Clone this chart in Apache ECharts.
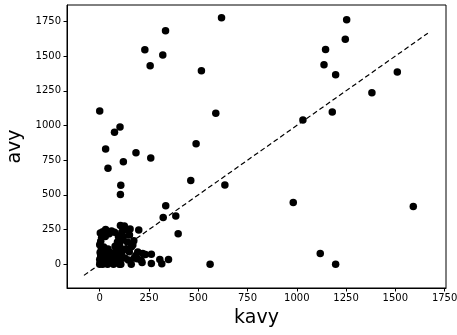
<!DOCTYPE html>
<html>
<head>
<meta charset="utf-8">
<script src="https://cdn.jsdelivr.net/npm/echarts@6/dist/echarts.min.js"></script>
<style>html,body{margin:0;padding:0;background:#fff}#c{width:457px;height:335px}</style>
</head>
<body>
<div id="c"></div>
<script>
// x values (kavy) and y values (avy)
var kavy = [
  0, 30, 42, 75, 103, 120, 184, 259, 107, 105, 462, 489, 589, 635,
  229, 256, 320, 334, 516, 618, 1146, 1138, 1253, 1246, 1197, 1510, 1381, 1180, 1031,
  982, 1591, 1119, 1197, 335, 322, 386, 398, 560, 349, 305, 315, 262, 262, 232, 215, 198,
  0, 3, 0, 5, 2, 8, 0, 5, 10, 3,
  15, 18, 22, 25, 20, 15, 28, 30, 35,
  40, 45, 50, 55, 42, 48, 60, 58,
  70, 75, 80, 85, 78, 90, 95, 75, 88,
  100, 105, 110, 115, 102, 108, 120, 112, 118, 105, 125, 130, 128, 132,
  151, 168, 161, 154, 173, 193, 218, 183, 210, 145, 160, 175, 150, 140, 190, 107
];
var avy = [
  1105, 830, 691, 951, 989, 739, 804, 765, 570, 503, 604, 869, 1088, 572,
  1545, 1430, 1507, 1682, 1394, 1776, 1547, 1437, 1762, 1622, 1365, 1386, 1235, 1097, 1040,
  445, 417, 77, 0, 421, 337, 347, 220, 0, 34, 34, 3, 5, 72, 70, 12, 247,
  0, 15, 35, 60, 85, 110, 140, 165, 195, 225,
  0, 30, 55, 90, 125, 235, 200, 250, 10,
  0, 30, 60, 85, 110, 220, 240, 15,
  0, 40, 70, 100, 130, 160, 200, 230, 20,
  0, 35, 65, 95, 130, 170, 200, 230, 260, 280, 275, 250, 45, 110,
  211, 138, 126, 254, 170, 89, 78, 63, 29, 30, 0, 45, 90, 160, 40, 0
];
// reference line y = x
var lineX = [-80, 1665];
var tickValues = [0, 250, 500, 750, 1000, 1250, 1500, 1750];

var pts = kavy.map(function (x, i) { return [x, avy[i]]; });
var linePts = lineX.map(function (v) { return [v, v]; });

var chart = echarts.init(document.getElementById('c'), null, {renderer: 'canvas'});
var font = 'DejaVu Sans';
function fmt(v) { return String(v); }
chart.setOption({
  animation: false,
  grid: {left: 67, right: 11, top: 5, bottom: 47, containLabel: false, outerBoundsMode: 'none',
         show: true, borderColor: '#000', borderWidth: 1, backgroundColor: 'transparent'},
  xAxis: {
    type: 'value', min: -166, max: 1757,
    name: 'kavy', nameLocation: 'middle', nameGap: 21,
    nameTextStyle: {fontFamily: font, fontSize: 19, color: '#000'},
    axisLine: {show: true, onZero: false, lineStyle: {color: '#000', width: 1}},
    axisTick: {show: true, inside: false, length: 3.5, lineStyle: {color: '#000'}, customValues: tickValues},
    axisLabel: {fontFamily: font, fontSize: 10, color: '#000', margin: 5, customValues: tickValues, formatter: fmt},
    splitLine: {show: false}
  },
  yAxis: {
    type: 'value', min: -171, max: 1868,
    name: 'avy', nameLocation: 'middle', nameGap: 38,
    nameTextStyle: {fontFamily: font, fontSize: 19, color: '#000'},
    axisLine: {show: true, onZero: false, lineStyle: {color: '#000', width: 1}},
    axisTick: {show: true, inside: false, length: 3.5, lineStyle: {color: '#000'}, customValues: tickValues},
    axisLabel: {fontFamily: font, fontSize: 10, color: '#000', margin: 6, customValues: tickValues, formatter: fmt},
    splitLine: {show: false}
  },
  series: [
    {
      type: 'scatter', data: pts, symbolSize: 7.5,
      itemStyle: {color: '#000', opacity: 1}
    },
    {
      type: 'line', data: linePts, symbol: 'none',
      lineStyle: {color: '#000', width: 1.2, type: [5, 3]}
    }
  ]
});
</script>
</body>
</html>
